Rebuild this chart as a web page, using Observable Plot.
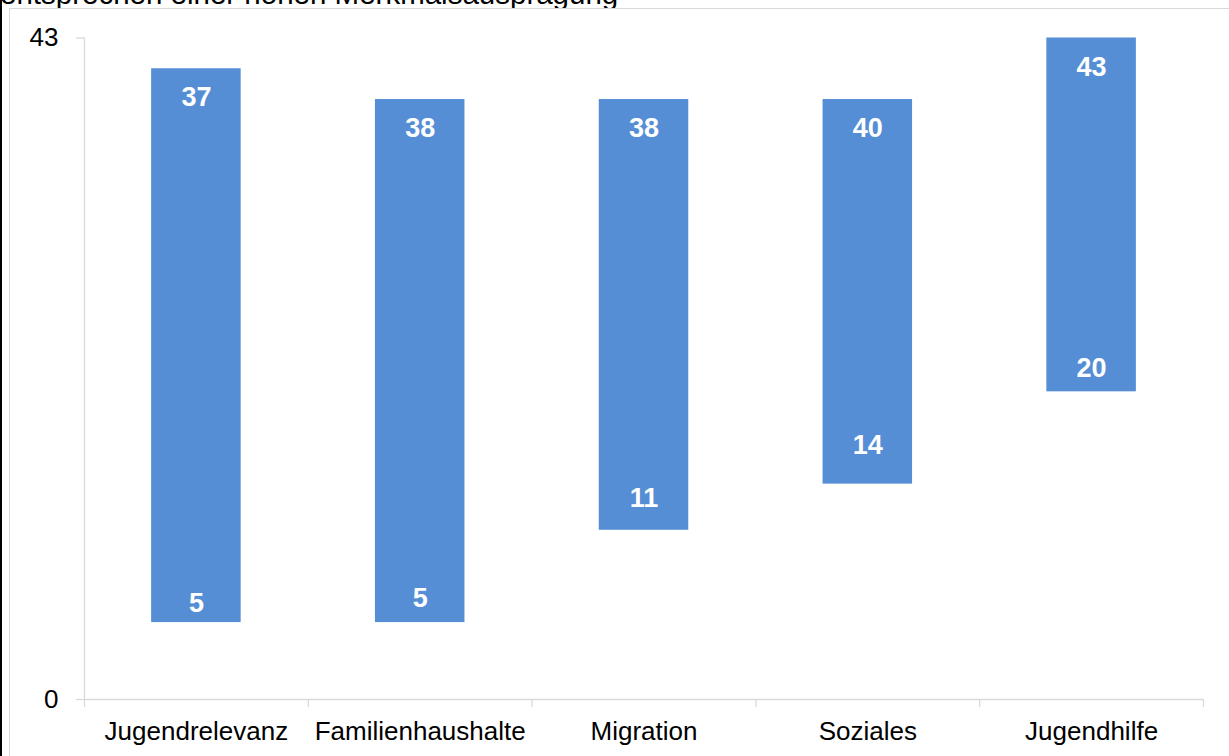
<!DOCTYPE html>
<html>
<head>
<meta charset="utf-8">
<script src="https://cdn.jsdelivr.net/npm/d3@7"></script>
<script src="https://cdn.jsdelivr.net/npm/@observablehq/plot@0.6"></script>
<style>
  html, body { margin: 0; padding: 0; background: #fff; overflow: hidden; }
  #wrap { position: relative; width: 1229px; height: 756px; overflow: hidden; font-family: "Liberation Sans", Arial, sans-serif; }
  #title { position: absolute; left: 0px; top: -21px; font-size: 29.5px; line-height: 29.5px; color: #000; white-space: nowrap; }
  #frame { position: absolute; left: 9px; top: 8px; width: 2000px; height: 2000px; border-top: 1.3px solid #d9d9d9; border-left: 1.3px solid #d9d9d9; box-sizing: border-box; background: #fff; }
  #edge { position: absolute; left: 0; top: 0; width: 2px; height: 756px; background: #000; }
  #chart { position: absolute; left: 0; top: 0; }
</style>
</head>
<body>
<div id="wrap">
  <div id="title">entsprechen einer hohen Merkmalsausprägung</div>
  <div id="frame"></div>
  <div id="edge"></div>
  <div id="chart"></div>
</div>
<script>
const categories = ["Jugendrelevanz", "Familienhaushalte", "Migration", "Soziales", "Jugendhilfe"];
const barLow = [5, 5, 11, 14, 20];
const barHigh = [41, 39, 39, 39, 43];
const topLabels = [37, 38, 38, 40, 43];
const bottomLabels = [5, 5, 11, 14, 20];
const bottomLabelAt = [6.25, 6.6, 13.1, 16.5, 21.5];
const yTicks = [0, 43];

const data = categories.map((c, i) => ({
  i, c, low: barLow[i], high: barHigh[i],
  top: topLabels[i], bottom: bottomLabels[i], bottomAt: bottomLabelAt[i]
}));
const edges = d3.range(categories.length + 1);
const centers = categories.map((c, i) => i + 0.5);

const gray = "#d9d9d9";
const blue = "#558ED5";

const chart = Plot.plot({
  width: 1229,
  height: 756,
  marginLeft: 84,
  marginRight: 26,
  marginTop: 37.5,
  marginBottom: 57,
  x: { type: "linear", domain: [0, categories.length], axis: null },
  y: { domain: [0, 43], axis: null },
  style: { fontFamily: "'Liberation Sans', Arial, sans-serif", fontSize: "26px", background: "transparent", overflow: "visible" },
  marks: [
    Plot.ruleX([0], { y1: 0, y2: 43, stroke: gray, strokeWidth: 1.3 }),
    Plot.ruleY([0], { x1: 0, x2: categories.length, stroke: gray, strokeWidth: 1.3 }),
    Plot.axisY({ ticks: yTicks, tickSize: 8, tickPadding: 18, stroke: gray, strokeWidth: 1.3, fill: "#000", tickFormat: d => String(d) }),
    Plot.axisX({ ticks: edges, tickSize: 8, stroke: gray, strokeWidth: 1.3, tickFormat: () => "" }),
    Plot.axisX({ ticks: centers, tickSize: 0, tickPadding: 22, fill: "#000", tickFormat: d => categories[Math.floor(d)] }),
    Plot.rectY(data, { x1: d => d.i + 0.3, x2: d => d.i + 0.7, y1: "low", y2: "high", fill: blue }),
    Plot.text(data, { x: d => d.i + 0.5, y: "high", dy: 29, text: d => String(d.top), fill: "#fff", fontWeight: "bold", fontSize: 27 }),
    Plot.text(data, { x: d => d.i + 0.5, y: "bottomAt", text: d => String(d.bottom), fill: "#fff", fontWeight: "bold", fontSize: 27 })
  ]
});
document.getElementById("chart").appendChild(chart);
</script>
</body>
</html>
